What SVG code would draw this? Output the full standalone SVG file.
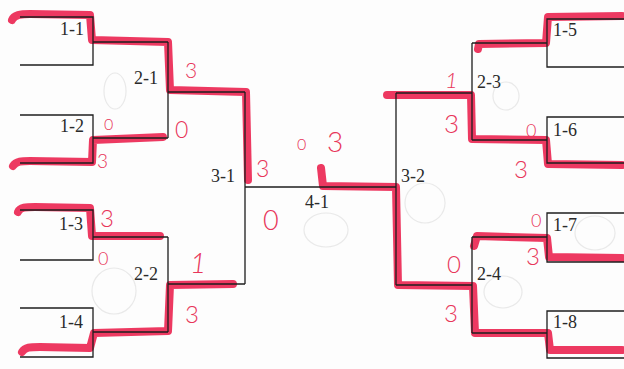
<svg xmlns="http://www.w3.org/2000/svg" width="624" height="369" viewBox="0 0 624 369">
<style>
.ln{fill:none;stroke:#1e1e1e;stroke-width:1.3;stroke-linejoin:miter}
.hl{fill:none;stroke:#ec2a55;stroke-width:8;stroke-linecap:round;stroke-linejoin:round;opacity:0.93}
.lb{font-family:"Liberation Serif","DejaVu Serif",serif;font-size:18px;fill:#2a2a2a}
.sc{font-family:"Lato","Liberation Sans",sans-serif;font-weight:300;fill:#e8365a}
.pc{fill:none;stroke:#d8d8d8;stroke-width:1.2;opacity:0.55}
</style>
<rect width="624" height="369" fill="#fdfdfd"/>
<g id="pencil">
<ellipse class="pc" cx="115" cy="91" rx="11" ry="18"/>
<ellipse class="pc" cx="114" cy="291" rx="22" ry="23"/>
<ellipse class="pc" cx="326" cy="230" rx="22" ry="17"/>
<ellipse class="pc" cx="425" cy="203" rx="20" ry="20"/>
<ellipse class="pc" cx="506" cy="96" rx="13" ry="14"/>
<ellipse class="pc" cx="503" cy="292" rx="19" ry="16"/>
<ellipse class="pc" cx="595" cy="233" rx="20" ry="17"/>
</g>
<g id="highlights">
<path class="hl" d="M12,20 C14,15 20,14 30,14 L90,15 L92,40 L168,42 L170,90 L246,92 L248,180"/>
<path class="hl" d="M13,166 C16,161 22,161 30,161 L92,162 L93,140 L163,137"/>
<path class="hl" d="M18,212 C20,207 26,207 35,207 L90,208 L92,236 L160,236"/>
<path class="hl" d="M22,352 C25,347 30,347 40,347 L90,348 L94,333 L168,331 L170,285 L233,284"/>
<path class="hl" d="M622,16 L548,17 L546,43 L479,44 L478,49"/>
<path class="hl" d="M622,165 L548,164 L546,140 L472,139 L471,95 L387,95"/>
<path class="hl" d="M622,258 L549,257 L547,238 L477,236 L474,246"/>
<path class="hl" d="M622,350 L550,350 L548,333 L475,333 L473,286 L398,285 L396,187 L323,186 L321,168"/>
</g>
<g id="connectors">
<path class="ln" d="M20,17 H93 V65 H20 M93,42 H168"/>
<path class="ln" d="M20,115 H93 V163 H20 M93,138 H168"/>
<path class="ln" d="M168,42 V138 M168,92 H245"/>
<path class="ln" d="M20,210 H93 V260 H20 M93,237 H168"/>
<path class="ln" d="M20,308 H93 V357 H20 M93,332 H168"/>
<path class="ln" d="M168,237 V332 M168,284 H245"/>
<path class="ln" d="M245,92 V284 M245,187 H396"/>
<path class="ln" d="M624,19 H547 V67 H624 M547,43 H472"/>
<path class="ln" d="M624,117 H547 V163 H624 M547,140 H472"/>
<path class="ln" d="M472,43 V140 M472,93 H396"/>
<path class="ln" d="M624,213 H547 V262 H624 M547,237 H472"/>
<path class="ln" d="M624,311 H547 V358 H624 M547,333 H472"/>
<path class="ln" d="M472,237 V333 M472,285 H396"/>
<path class="ln" d="M396,93 V285"/>
</g>
<g id="m1-1"><text class="lb" x="60" y="35">1-1</text></g>
<g id="m1-2"><text class="lb" x="60" y="132">1-2</text></g>
<g id="m1-3"><text class="lb" x="59" y="230">1-3</text></g>
<g id="m1-4"><text class="lb" x="59" y="328">1-4</text></g>
<g id="m2-1"><text class="lb" x="134" y="84">2-1</text></g>
<g id="m2-2"><text class="lb" x="134" y="280">2-2</text></g>
<g id="m3-1"><text class="lb" x="211" y="182">3-1</text></g>
<g id="m4-1"><text class="lb" x="305" y="208">4-1</text></g>
<g id="m3-2"><text class="lb" x="401" y="182">3-2</text></g>
<g id="m2-3"><text class="lb" x="477" y="88">2-3</text></g>
<g id="m2-4"><text class="lb" x="477" y="280">2-4</text></g>
<g id="m1-5"><text class="lb" x="553" y="36">1-5</text></g>
<g id="m1-6"><text class="lb" x="553" y="136">1-6</text></g>
<g id="m1-7"><text class="lb" x="553" y="231">1-7</text></g>
<g id="m1-8"><text class="lb" x="553" y="328">1-8</text></g>
<g id="scores">
<text class="sc" x="185" y="78" font-size="21">3</text>
<text class="sc" x="104" y="130" font-size="16">0</text>
<text class="sc" x="175" y="138" font-size="23">0</text>
<text class="sc" x="97" y="168" font-size="19">3</text>
<text class="sc" x="256" y="177" font-size="23">3</text>
<text class="sc" x="297" y="150" font-size="16">0</text>
<text class="sc" x="327" y="152" font-size="28">3</text>
<text class="sc" x="263" y="230" font-size="27">0</text>
<text class="sc" x="100" y="227" font-size="24">3</text>
<text class="sc" x="98" y="265" font-size="18">0</text>
<text class="sc" x="190" y="273" font-size="28" font-style="italic">1</text>
<text class="sc" x="185" y="323" font-size="24">3</text>
<text class="sc" x="445" y="88" font-size="22" font-style="italic">1</text>
<text class="sc" x="444" y="133" font-size="26">3</text>
<text class="sc" x="526" y="137" font-size="18">0</text>
<text class="sc" x="514" y="178" font-size="24">3</text>
<text class="sc" x="531" y="227" font-size="18">0</text>
<text class="sc" x="526" y="265" font-size="24">3</text>
<text class="sc" x="447" y="273" font-size="24">0</text>
<text class="sc" x="444" y="322" font-size="24">3</text>
</g>
</svg>
